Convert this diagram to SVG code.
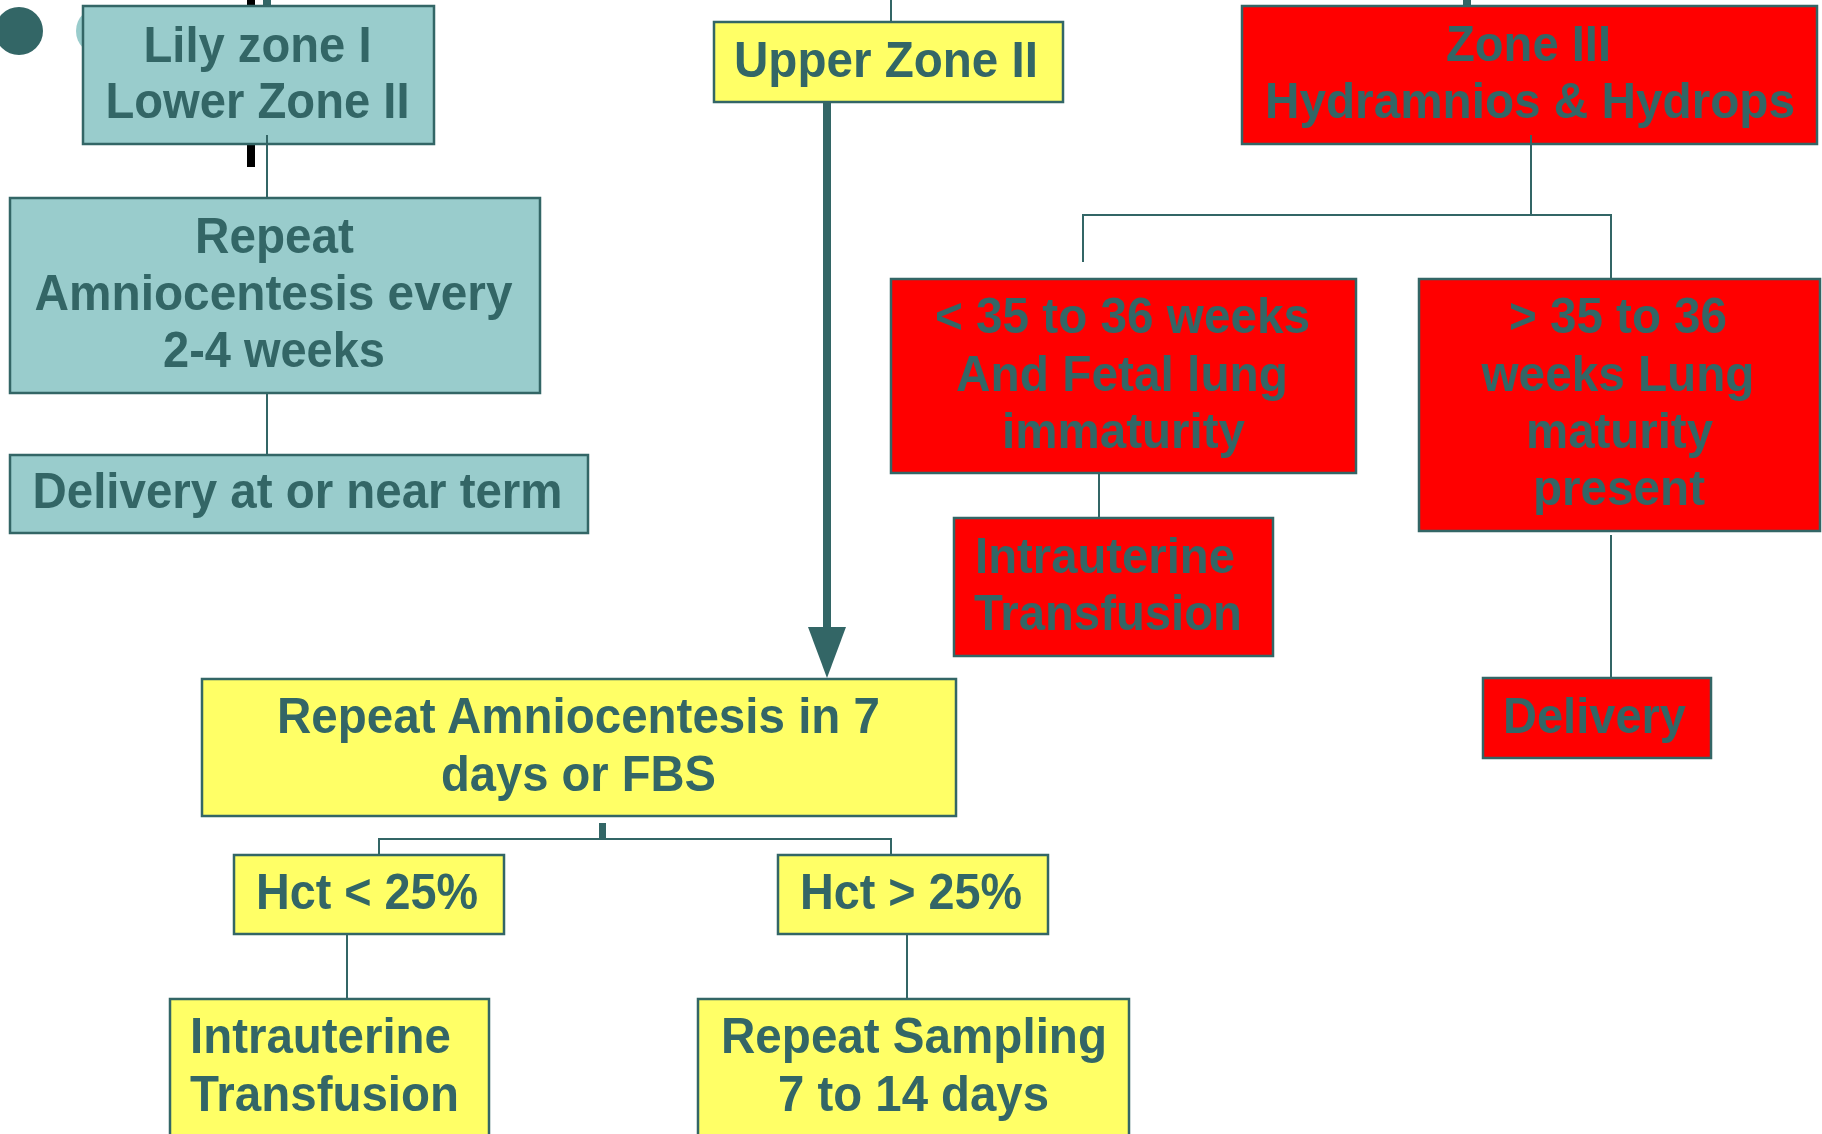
<svg xmlns="http://www.w3.org/2000/svg" width="1822" height="1134" viewBox="0 0 1822 1134">
<style>
.box{stroke:#336666;stroke-width:2.5}
.teal{fill:#99CCCC}
.yel{fill:#FFFF66}
.red{fill:#FF0000}
text{font-family:"Liberation Sans",Arial,sans-serif;font-weight:bold;font-size:50px;fill:#336666}
.ln{stroke:#336666;stroke-width:2;fill:none}
</style>
<rect width="1822" height="1134" fill="#ffffff"/>
<g id="background">
<circle cx="19" cy="31" r="24" fill="#336666"/>
<circle cx="100" cy="31" r="24" fill="#99CCCC"/>
<rect x="247" y="0" width="8" height="167" fill="#000000"/>
<rect x="263" y="0" width="8" height="8" fill="#336666"/>
<rect x="1463" y="0" width="8" height="8" fill="#336666"/>
<line x1="891" y1="0" x2="891" y2="22" class="ln"/>
</g>
<g id="lily">
<rect class="box teal" x="83" y="6" width="351" height="138"/>
<text x="143.5" y="62" textLength="228" lengthAdjust="spacingAndGlyphs">Lily zone I</text>
<text x="105.5" y="118" textLength="304" lengthAdjust="spacingAndGlyphs">Lower Zone II</text>
</g>
<g id="repeat-teal">
<rect class="box teal" x="10" y="198" width="530" height="195"/>
<text x="195" y="253" textLength="159" lengthAdjust="spacingAndGlyphs">Repeat</text>
<text x="34.5" y="310" textLength="478" lengthAdjust="spacingAndGlyphs">Amniocentesis every</text>
<text x="163" y="367" textLength="222" lengthAdjust="spacingAndGlyphs">2-4 weeks</text>
</g>
<g id="delivery-term">
<rect class="box teal" x="10" y="455" width="578" height="78"/>
<text x="32.5" y="508" textLength="530" lengthAdjust="spacingAndGlyphs">Delivery at or near term</text>
</g>
<g id="upper-zone">
<rect class="box yel" x="714" y="22" width="349" height="80"/>
<text x="734" y="77" textLength="304" lengthAdjust="spacingAndGlyphs">Upper Zone II</text>
</g>
<g id="zone3">
<rect class="box red" x="1242" y="6" width="575" height="138"/>
<text x="1446" y="61" textLength="165" lengthAdjust="spacingAndGlyphs">Zone III</text>
<text x="1265" y="118" textLength="530" lengthAdjust="spacingAndGlyphs">Hydramnios &amp; Hydrops</text>
</g>
<g id="lt35">
<rect class="box red" x="891" y="279" width="465" height="194"/>
<text x="935" y="333" textLength="375" lengthAdjust="spacingAndGlyphs">&lt; 35 to 36 weeks</text>
<text x="956" y="391" textLength="332" lengthAdjust="spacingAndGlyphs">And Fetal lung</text>
<text x="1002" y="448" textLength="243" lengthAdjust="spacingAndGlyphs">immaturity</text>
</g>
<g id="gt35">
<rect class="box red" x="1419" y="279" width="401" height="252"/>
<text x="1509" y="333" textLength="218" lengthAdjust="spacingAndGlyphs">&gt; 35 to 36</text>
<text x="1481.5" y="391" textLength="273" lengthAdjust="spacingAndGlyphs">weeks Lung</text>
<text x="1526" y="448" textLength="187" lengthAdjust="spacingAndGlyphs">maturity</text>
<text x="1533" y="505" textLength="172" lengthAdjust="spacingAndGlyphs">present</text>
</g>
<g id="iut-red">
<rect class="box red" x="954" y="518" width="319" height="138"/>
<text x="975" y="573" textLength="260" lengthAdjust="spacingAndGlyphs">Intrauterine</text>
<text x="974" y="630" textLength="268" lengthAdjust="spacingAndGlyphs">Transfusion</text>
</g>
<g id="delivery-red">
<rect class="box red" x="1483" y="678" width="228" height="80"/>
<text x="1503" y="733" textLength="183" lengthAdjust="spacingAndGlyphs">Delivery</text>
</g>
<g id="repeat-amnio">
<rect class="box yel" x="202" y="679" width="754" height="137"/>
<text x="277" y="733" textLength="603" lengthAdjust="spacingAndGlyphs">Repeat Amniocentesis in 7</text>
<text x="441" y="791" textLength="275" lengthAdjust="spacingAndGlyphs">days or FBS</text>
</g>
<g id="hct-lt">
<rect class="box yel" x="234" y="855" width="270" height="79"/>
<text x="256" y="909" textLength="222" lengthAdjust="spacingAndGlyphs">Hct &lt; 25%</text>
</g>
<g id="hct-gt">
<rect class="box yel" x="778" y="855" width="270" height="79"/>
<text x="800" y="909" textLength="222" lengthAdjust="spacingAndGlyphs">Hct &gt; 25%</text>
</g>
<g id="iut-yellow">
<rect class="box yel" x="170" y="999" width="319" height="150"/>
<text x="190" y="1053" textLength="261" lengthAdjust="spacingAndGlyphs">Intrauterine</text>
<text x="190" y="1111" textLength="269" lengthAdjust="spacingAndGlyphs">Transfusion</text>
</g>
<g id="repeat-sampling">
<rect class="box yel" x="698" y="999" width="431" height="150"/>
<text x="721" y="1053" textLength="386" lengthAdjust="spacingAndGlyphs">Repeat Sampling</text>
<text x="778" y="1111" textLength="271" lengthAdjust="spacingAndGlyphs">7 to 14 days</text>
</g>
<g id="connectors">
<line x1="267" y1="135" x2="267" y2="198" class="ln"/>
<line x1="267" y1="392" x2="267" y2="455" class="ln"/>
<line x1="827" y1="102" x2="827" y2="630" stroke="#336666" stroke-width="8"/>
<polygon points="808,627 846,627 827,678" fill="#336666"/>
<line x1="1531" y1="135" x2="1531" y2="215" class="ln"/>
<polyline points="1083,262 1083,215 1611,215 1611,279" class="ln"/>
<line x1="1099" y1="473" x2="1099" y2="518" class="ln"/>
<line x1="1611" y1="535" x2="1611" y2="678" class="ln"/>
<line x1="602.5" y1="823" x2="602.5" y2="839" stroke="#336666" stroke-width="7"/>
<polyline points="379,855 379,839 891,839 891,855" class="ln"/>
<line x1="347" y1="934" x2="347" y2="999" class="ln"/>
<line x1="907" y1="934" x2="907" y2="999" class="ln"/>
</g>
</svg>
